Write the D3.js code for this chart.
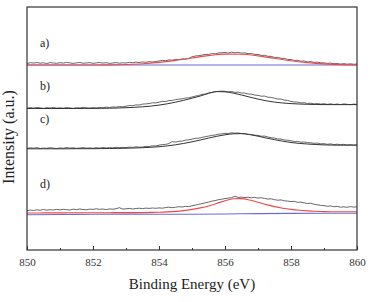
<!DOCTYPE html>
<html>
<head>
<meta charset="utf-8">
<script src="https://cdn.jsdelivr.net/npm/d3@7"></script>
<style>
  body { margin: 0; background: #fff; }
  svg { display: block; }
  svg text { font-family: "Liberation Serif", "Times New Roman", serif; }
</style>
</head>
<body>
<div id="chart"></div>
<script>
// Binding energy grid (eV)
var xStart = 850, xEnd = 860;
var rawStep = 0.1, fitStep = 0.25, fitStepA = 0.5, baseStep = 1;

// Raw spectra (a.u., one value every 0.1 eV from 850 to 860)
var rawA = [
  186.6, 187.3, 186.9, 187.5, 186.8, 187.2, 186.5, 187.4, 187.0, 186.7,
  187.3, 186.9, 187.6, 187.1, 186.6, 187.2, 187.5, 186.8, 187.0, 187.4,
  186.7, 187.1, 187.5, 186.9, 187.3, 186.6, 187.0, 187.4, 186.8, 187.2,
  187.0, 187.6, 187.3, 187.9, 187.4, 188.1, 187.7, 188.3, 188.0, 188.6,
  189.0, 189.6, 189.3, 190.1, 189.8, 190.6, 190.2, 191.1, 190.8, 191.5,
  193.2, 194.0, 194.3, 194.9, 195.6, 195.5, 196.4, 196.2, 197.0, 197.3,
  197.5, 197.0, 197.8, 197.2, 197.6, 196.9, 197.1, 196.3, 196.6, 195.6,
  195.5, 194.6, 194.7, 193.7, 193.6, 192.6, 192.6, 191.7, 191.6, 190.6,
  190.4, 189.6, 189.7, 188.8, 189.0, 188.1, 188.4, 187.6, 187.9, 187.2,
  187.1, 186.6, 186.9, 186.2, 186.5, 185.9, 186.4, 185.8, 186.2, 185.7,
  186.0
];
var rawB = [
  141.8, 142.4, 141.9, 142.6, 142.1, 141.7, 142.3, 142.0, 142.6, 141.9,
  142.2, 141.8, 142.5, 142.1, 141.6, 142.4, 142.0, 142.7, 142.2, 141.9,
  142.3, 142.0, 142.6, 142.2, 142.9, 142.5, 143.1, 142.8, 143.5, 143.2,
  143.8, 144.5, 144.3, 145.1, 145.0, 145.9, 146.1, 146.5, 147.2, 147.1,
  147.8, 148.6, 148.5, 149.4, 149.6, 150.3, 150.9, 151.1, 151.9, 152.2,
  153.0, 153.9, 154.5, 155.6, 155.9, 157.1, 157.5, 158.3, 158.6, 158.9,
  158.7, 158.2, 158.4, 157.6, 157.8, 157.0, 156.9, 156.0, 155.8, 154.9,
  154.6, 153.8, 153.9, 152.8, 152.6, 151.8, 151.0, 150.9, 149.9, 149.6,
  148.6, 148.0, 147.9, 147.1, 147.3, 146.5, 146.8, 146.1, 146.5, 145.9,
  146.3, 145.6, 146.2, 145.5, 146.0, 145.4, 146.1, 145.7, 145.3, 145.9,
  145.6
];
var rawC = [
  101.6, 102.2, 101.8, 102.4, 101.5, 102.0, 101.7, 102.3, 101.9, 101.4,
  102.1, 101.7, 102.5, 101.9, 102.2, 101.6, 102.0, 102.4, 101.8, 102.1,
  101.7, 102.3, 101.9, 102.5, 102.0, 102.4, 102.1, 102.7, 102.3, 102.6,
  102.4, 102.9, 102.6, 103.2, 102.8, 103.0, 103.6, 103.5, 104.2, 104.1,
  104.8, 105.5, 105.6, 106.4, 108.4, 107.9, 108.7, 108.9, 109.8, 110.2,
  110.8, 111.7, 111.8, 112.6, 113.3, 113.9, 114.6, 115.0, 115.8, 116.1,
  116.7, 116.5, 117.2, 116.8, 117.0, 116.4, 116.3, 115.6, 115.5, 114.8,
  114.6, 113.8, 113.9, 113.0, 112.3, 111.9, 111.1, 110.9, 110.0, 109.8,
  109.2, 108.5, 108.6, 107.8, 108.0, 107.4, 107.2, 106.7, 106.9, 106.2,
  106.3, 105.7, 106.1, 105.4, 105.8, 105.3, 105.7, 105.0, 105.4, 104.9,
  105.2
];
var rawD = [
  39.3, 39.9, 39.5, 40.2, 39.7, 40.5, 39.8, 40.3, 40.0, 40.6,
  40.1, 40.7, 40.3, 40.0, 40.8, 40.4, 41.0, 40.5, 40.2, 40.9,
  40.6, 41.2, 40.7, 41.0, 40.4, 41.1, 40.8, 41.3, 42.3, 40.9,
  41.2, 41.6, 41.0, 41.5, 41.8, 41.3, 41.9, 41.6, 42.0, 41.7,
  42.1, 41.8, 42.4, 42.9, 42.3, 42.8, 43.3, 43.0, 43.6, 43.4,
  44.2, 44.9, 45.6, 46.3, 47.2, 47.9, 48.8, 49.4, 50.3, 50.8,
  51.4, 51.9, 52.3, 53.8, 52.5, 52.9, 52.4, 52.8, 52.2, 52.6,
  51.9, 52.3, 51.6, 50.9, 51.2, 50.3, 49.8, 50.1, 49.2, 48.9,
  48.4, 48.7, 47.6, 47.9, 47.1, 46.5, 46.8, 45.7, 45.2, 44.6,
  44.4, 43.7, 44.1, 43.3, 43.6, 42.8, 43.2, 42.7, 43.4, 42.9,
  43.2
];

// Fitted envelopes
var fitA = [185, 185, 185, 185, 185, 185.1, 185.5, 186.2, 187.6, 189.6, 192,
            194.4, 195.9, 195.7, 194.1, 191.7, 189.2, 187.4, 186.1, 185.4, 185.1]; // 0.5 eV
var fitB = [141.5, 141.5, 141.5, 141.5, 141.5, 141.5, 141.5, 141.6, 141.6, 141.7,
            141.8, 142.0, 142.3, 142.7, 143.2, 143.9, 144.9, 146.2, 147.8, 149.7,
            151.8, 154.0, 156.6, 158.4, 158.2, 156.9, 155.0, 152.9, 150.9, 149.2,
            147.9, 147.0, 146.4, 146.0, 145.7, 145.5, 145.4, 145.4, 145.4, 145.4, 145.4];
var fitC = [101.2, 101.2, 101.2, 101.2, 101.2, 101.2, 101.3, 101.3, 101.3, 101.4,
            101.5, 101.6, 101.8, 102.0, 102.3, 102.7, 103.3, 104.1, 105.2, 106.6,
            108.2, 110.0, 111.9, 113.7, 115.2, 116.2, 116.4, 115.4, 113.8, 112.0,
            110.3, 108.8, 107.5, 106.6, 106.0, 105.5, 105.1, 104.9, 104.8, 104.8, 104.8];
var fitD = [37.0, 37.0, 37.1, 37.1, 37.1, 37.2, 37.2, 37.2, 37.3, 37.3,
            37.3, 37.4, 37.4, 37.4, 37.5, 37.6, 37.8, 38.1, 38.6, 39.4,
            40.6, 42.1, 44.0, 46.6, 49.3, 51.2, 51.4, 50.0, 47.7, 45.4,
            43.4, 41.8, 40.6, 39.7, 39.1, 38.7, 38.4, 38.3, 38.3, 38.2, 38.2];

// Backgrounds (1 eV)
var baseA = [185, 185, 185, 185, 185, 185, 185, 185, 185, 185, 185];
var baseD = [35.3, 35.5, 35.8, 35.9, 35.8, 35.8, 36.0, 36.4, 36.6, 36.7, 36.7];

var panelLabels = ["a)", "b)", "c)", "d)"];
var panelLabelLevels = [203, 160, 127, 62];
var majorTicks = [850, 852, 854, 856, 858, 860];
var minorTicks = [851, 853, 855, 857, 859];

function init() {
    var w = 370, h = 302;
    var left = 27, right = 357, top = 7, bottom = 250;

    var svg = d3.select("#chart").append("svg")
        .attr("width", w).attr("height", h);

    var x = d3.scaleLinear().domain([xStart, xEnd]).range([left, right]);
    var y = d3.scaleLinear().domain([0, 243]).range([bottom, top]);

    function pts(vals, step) {
        return vals.map(function(v, i) { return [xStart + i * step, v]; });
    }

    var rough = d3.line().x(function(d) { return x(d[0]); }).y(function(d) { return y(d[1]); });
    var smooth = d3.line().x(function(d) { return x(d[0]); }).y(function(d) { return y(d[1]); })
        .curve(d3.curveMonotoneX);

    var g = svg.append("g");

    // raw data
    [rawA, rawB, rawC, rawD].forEach(function(s) {
        g.append("path").attr("d", rough(pts(s, rawStep)))
            .attr("fill", "none").attr("stroke", "#555").attr("stroke-width", 0.9);
    });

    // fits
    g.append("path").attr("d", smooth(pts(baseA, baseStep)))
        .attr("fill", "none").attr("stroke", "#6b6bd6").attr("stroke-width", 1.1);
    g.append("path").attr("d", smooth(pts(baseD, baseStep)))
        .attr("fill", "none").attr("stroke", "#6b6bd6").attr("stroke-width", 1.1);
    g.append("path").attr("d", smooth(pts(fitA, fitStepA)))
        .attr("fill", "none").attr("stroke", "#f04848").attr("stroke-width", 1.1);
    g.append("path").attr("d", smooth(pts(fitD, fitStep)))
        .attr("fill", "none").attr("stroke", "#f04848").attr("stroke-width", 1.1);
    [fitB, fitC].forEach(function(s) {
        g.append("path").attr("d", smooth(pts(s, fitStep)))
            .attr("fill", "none").attr("stroke", "#333").attr("stroke-width", 1);
    });

    // panel labels
    svg.selectAll("text.panel").data(panelLabels).enter().append("text")
        .attr("class", "panel")
        .attr("x", 40)
        .attr("y", function(d, i) { return y(panelLabelLevels[i]); })
        .style("font-size", "12px").attr("fill", "#222")
        .text(function(d) { return d; });

    // frame
    svg.append("rect").attr("x", left).attr("y", top)
        .attr("width", right - left).attr("height", bottom - top)
        .attr("fill", "none").attr("stroke", "#333").attr("stroke-width", 1.2);

    // bottom axis, ticks pointing inward
    var ax = svg.append("g").attr("transform", "translate(0," + bottom + ")")
        .call(d3.axisBottom(x).tickValues(majorTicks).tickSize(-4).tickPadding(8)
            .tickFormat(d3.format("d")));
    ax.attr("font-family", null);
    ax.select(".domain").remove();
    ax.selectAll("line").attr("stroke", "#333");
    ax.selectAll("text").style("font-size", "11px").attr("fill", "#333");

    var axm = svg.append("g").attr("transform", "translate(0," + bottom + ")")
        .call(d3.axisBottom(x).tickValues(minorTicks).tickSize(-2).tickFormat(""));
    axm.select(".domain").remove();
    axm.selectAll("line").attr("stroke", "#333");

    svg.append("text").attr("x", 192).attr("y", 289)
        .attr("text-anchor", "middle")
        .style("font-size", "15px").attr("fill", "#222")
        .text("Binding Energy (eV)");

    svg.append("text")
        .attr("transform", "translate(14,137) rotate(-90)")
        .attr("text-anchor", "middle")
        .style("font-size", "16px").attr("fill", "#222")
        .text("Intensity (a.u.)");
}

window.onload = init;
</script>
</body>
</html>
